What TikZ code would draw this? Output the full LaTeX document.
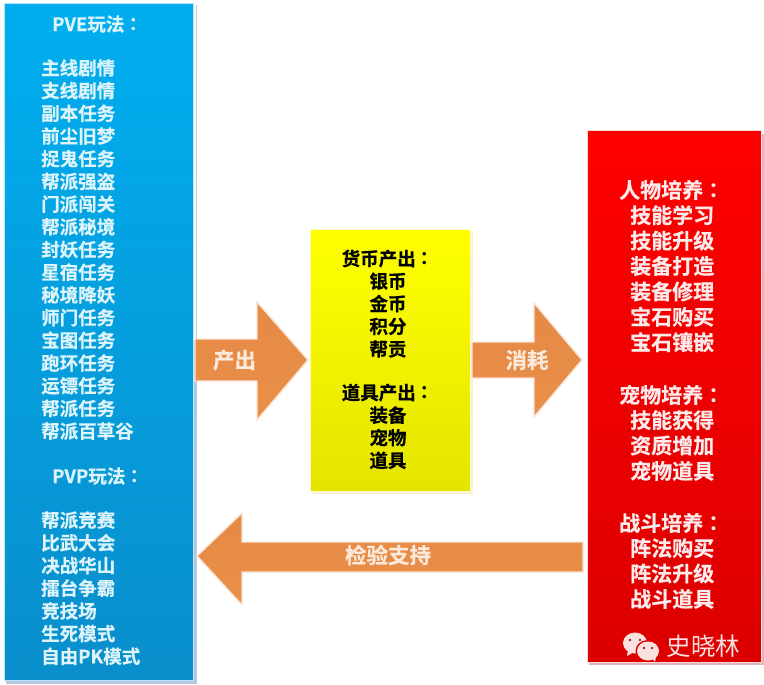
\documentclass[tikz,border=0pt]{standalone}
\usepackage{fontspec}
\setmainfont{Noto Sans CJK SC}[BoldFont={Noto Sans CJK SC Bold},BoldFeatures={FakeBold=0.5}]
\newfontfamily\tcfont{Noto Sans CJK TC}[BoldFont={Noto Sans CJK TC Bold}]
\newcommand{\cl}{{\tcfont\bfseries ：}}
\definecolor{arrowtop}{HTML}{E58A45}
\definecolor{arrowbot}{HTML}{E98F48}
\definecolor{arrowedge}{HTML}{FBE4D4}
\definecolor{arrowlabel}{HTML}{FBE9DC}
\definecolor{bluelabel}{HTML}{DDF5FA}
\definecolor{redlabel}{HTML}{FDEAEA}
\definecolor{blueshadow}{HTML}{B4C8E4}
\definecolor{blueedge}{HTML}{B8E6F5}
\definecolor{bluetop}{HTML}{00AEEF}
\definecolor{bluebot}{HTML}{0A8ECC}
\definecolor{yellowshadow}{HTML}{F6F2D4}
\definecolor{yellowedge}{HTML}{FBFAC8}
\definecolor{yellowtop}{HTML}{FFFF00}
\definecolor{yellowbot}{HTML}{E4E400}
\definecolor{redshadow}{HTML}{E0B4BC}
\definecolor{rededge}{HTML}{FBD8D8}
\definecolor{redtop}{HTML}{FF0000}
\definecolor{redbot}{HTML}{DC0000}
\definecolor{logopale}{HTML}{FBE0E0}
\definecolor{logodot}{HTML}{A02020}
\definecolor{logoback}{HTML}{DC0000}
\begin{document}
\begin{tikzpicture}[x=1pt,y=-1pt,
  panel/.style={line width=1pt},
  shade arrow/.style={top color=arrowtop,bottom color=arrowbot,draw=arrowedge,line width=1.4pt,line join=miter},
  arrowtext/.style={text=arrowlabel,font=\fontsize{21.5}{24}\selectfont\bfseries,inner sep=0pt},
  bluetext/.style={text=bluelabel,font=\fontsize{18.5}{22.7}\selectfont\bfseries,align=left,inner sep=0pt,anchor=west},
  yellowtext/.style={text=black,font=\fontsize{18.5}{22.6}\selectfont\bfseries,align=center,inner sep=0pt},
  redtext/.style={text=redlabel,font=\fontsize{21}{25.4}\selectfont\bfseries,align=left,inner sep=0pt,anchor=west},
]
\useasboundingbox (0,0) rectangle (764,685);
\fill[white] (0,0) rectangle (764,685);
% left panel
\fill[blueshadow] (6,5) rectangle (197,684);
\fill[white] (194,5) rectangle (196,340);
\path[panel,draw=blueedge,top color=bluetop,bottom color=bluebot] (4,4) rectangle (193,680);
% centre panel
\fill[yellowshadow] (313,232) rectangle (473,494);
\path[panel,draw=yellowedge,top color=yellowtop,bottom color=yellowbot] (310,229) rectangle (470,491);
% right panel
\fill[redshadow] (589,134) rectangle (764,665);
\path[panel,draw=rededge,top color=redtop,bottom color=redbot] (587,131) rectangle (761,662);
% arrows
\path[shade arrow] (195,339) -- (257,339) -- (257,302) -- (308,360) -- (257,420) -- (257,381) -- (195,381) -- cycle;
\path[shade arrow] (472,342) -- (534,342) -- (534,303) -- (582,360) -- (534,417) -- (534,378) -- (472,378) -- cycle;
\path[shade arrow] (583,542) -- (242,542) -- (242,513) -- (197,556) -- (242,605) -- (242,572) -- (583,572) -- cycle;
\node[arrowtext] (lblA) at (234.5,360) {产出};
\node[arrowtext] (lblB) at (527,360) {消耗};
\node[arrowtext] (lblC) at (388,555) {检验支持};
% blue text
\node[bluetext] (pve) at (52,24) {PVE玩法\cl};
\node[bluetext,anchor=north west] (pvelist) at (41,59) {主线剧情\\支线剧情\\副本任务\\前尘旧梦\\捉鬼任务\\帮派强盗\\门派闯关\\帮派秘境\\封妖任务\\星宿任务\\秘境降妖\\师门任务\\宝图任务\\跑环任务\\运镖任务\\帮派任务\\帮派百草谷};
\node[bluetext] (pvp) at (52,476) {PVP玩法\cl};
\node[bluetext,anchor=north west] (pvplist) at (41,511) {帮派竞赛\\比武大会\\决战华山\\擂台争霸\\竞技场\\生死模式\\自由PK模式};
% yellow text
\node[yellowtext,anchor=north] (money) at (388,249.5) {货币产出\cl\\银币\\金币\\积分\\帮贡};
\node[yellowtext,anchor=north] (items) at (388,383.5) {道具产出\cl\\装备\\宠物\\道具};
% red text
\node[redtext] (h1) at (619,190) {人物培养\cl};
\node[redtext,anchor=north west] (l1) at (630,205) {技能学习\\技能升级\\装备打造\\装备修理\\宝石购买\\宝石镶嵌};
\node[redtext] (h2) at (619,395) {宠物培养\cl};
\node[redtext,anchor=north west] (l2) at (630,410) {技能获得\\资质增加\\宠物道具};
\node[redtext] (h3) at (619,523) {战斗培养\cl};
\node[redtext,anchor=north west] (l3) at (630,538) {阵法购买\\阵法升级\\战斗道具};
% logo
\fill[logopale] (635,643) ellipse (12 and 10.5);
\fill[logopale] (628,650) -- (627,656) -- (634,652) -- cycle;
\fill[logoback] (648,651) ellipse (12.5 and 11);
\fill[logopale] (648,651) ellipse (11 and 9.5);
\fill[logopale] (652,658) -- (655,662) -- (656,656) -- cycle;
\foreach \p in {(630,640),(640,640),(644,648),(652,648)} \fill[logodot] \p circle (1.3);
\node[text=logopale,font=\fontsize{24.5}{26}\selectfont,inner sep=0pt] (wm) at (703.5,646) {史晓林};
\end{tikzpicture}
\end{document}
